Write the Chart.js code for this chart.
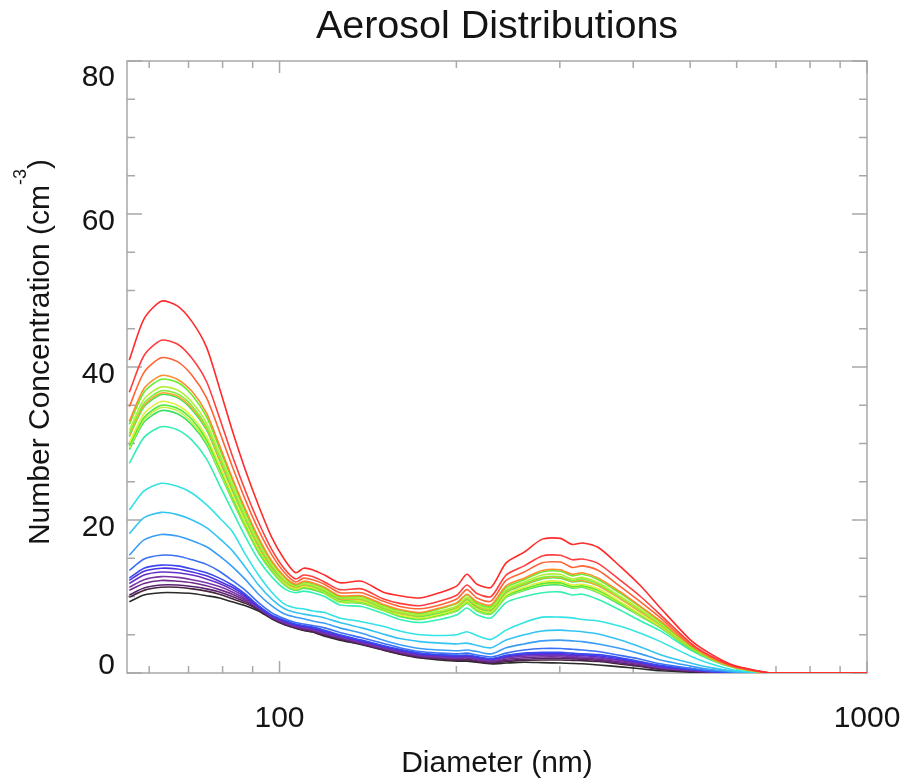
<!DOCTYPE html>
<html>
<head>
<meta charset="utf-8">
<script src="https://cdn.jsdelivr.net/npm/chart.js@4"></script>
<style>
html, body { margin: 0; background: #fff; }
#wrap { width: 915px; height: 779px; position: relative; }
</style>
</head>
<body>
<div id="wrap"><canvas id="c"></canvas></div>
<script>
const axisCol = '#a8a8a8';
const textCol = '#141414';
const fontFam = '"Liberation Sans", Arial, Helvetica, sans-serif';

// diameters (nm) shared by every distribution
const diam = [55.5, 58.8, 62.9, 67.0, 71.0, 75.1, 79.0, 83.1, 87.5, 92.1, 96.9, 102, 106.5, 109.9, 113.8, 119.3, 126.6, 138, 149.9, 160.2, 173.4, 187.5, 200.5, 208.4, 216.8, 229.1, 243, 260.9, 280, 300.5, 315, 327.6, 348.9, 380.4, 411.6, 445.1, 501, 541.9, 593, 659.5, 686, 772, 1000];

const red1 = [40.9, 46.3, 48.6, 48.0, 45.9, 42.6, 37.3, 31.7, 26.5, 21.9, 17.8, 14.8, 13.1, 13.7, 13.5, 12.8, 11.8, 12.0, 10.6, 10.1, 9.8, 10.5, 11.4, 12.9, 11.6, 11.2, 14.4, 15.8, 17.5, 17.6, 16.8, 17.0, 16.4, 13.9, 11.4, 8.5, 4.3, 2.5, 1.0, 0.2, 0, 0, 0];
const red2 = [36.7, 41.5, 43.5, 43.0, 41.1, 38.1, 33.4, 28.4, 23.8, 19.7, 16.2, 13.6, 12.3, 12.8, 12.6, 11.9, 10.9, 11.0, 9.7, 9.1, 8.8, 9.4, 10.2, 11.5, 10.4, 10.0, 12.8, 14.0, 15.3, 15.4, 14.8, 14.9, 14.3, 12.1, 10.0, 7.6, 3.9, 2.2, 0.9, 0.2, 0, 0, 0];
const orangeRed = [34.8, 39.3, 41.2, 40.7, 38.9, 36.0, 31.6, 27.0, 22.6, 18.7, 15.5, 13.1, 11.9, 12.4, 12.2, 11.6, 10.5, 10.5, 9.4, 8.7, 8.4, 8.9, 9.7, 10.9, 9.8, 9.4, 12.1, 13.2, 14.4, 14.5, 13.8, 14.0, 13.4, 11.3, 9.3, 7.2, 3.7, 2.2, 0.9, 0.15, 0, 0, 0];
const orange1 = [32.9, 37.2, 38.9, 38.4, 36.8, 34.0, 29.8, 25.5, 21.4, 17.7, 14.7, 12.6, 11.6, 12.0, 11.8, 11.2, 10.1, 10.1, 9.0, 8.3, 7.9, 8.5, 9.2, 10.3, 9.3, 8.9, 11.4, 12.4, 13.4, 13.5, 12.9, 13.1, 12.4, 10.6, 8.7, 6.8, 3.6, 2.0, 0.8, 0.14, 0, 0, 0];
const green1 = [32.5, 36.7, 38.4, 38.0, 36.3, 33.5, 29.4, 25.2, 21.1, 17.5, 14.6, 12.5, 11.5, 11.9, 11.7, 11.1, 10.0, 10.0, 8.9, 8.2, 7.8, 8.4, 9.1, 10.2, 9.1, 8.7, 11.2, 12.2, 13.2, 13.3, 12.7, 12.9, 12.2, 10.4, 8.6, 6.7, 3.5, 2.0, 0.8, 0.14, 0, 0, 0];
const yellowGreen = [31.7, 35.8, 37.4, 37.0, 35.4, 32.7, 28.7, 24.6, 20.6, 17.1, 14.3, 12.2, 11.4, 11.7, 11.5, 10.9, 9.9, 9.8, 8.7, 8.0, 7.6, 8.1, 8.8, 9.9, 8.9, 8.5, 10.9, 11.9, 12.8, 12.9, 12.3, 12.5, 11.8, 10.0, 8.3, 6.5, 3.4, 1.95, 0.8, 0.13, 0, 0, 0];
const green2 = [31.3, 35.3, 36.9, 36.5, 34.9, 32.2, 28.3, 24.3, 20.3, 16.9, 14.1, 12.1, 11.3, 11.6, 11.4, 10.8, 9.8, 9.7, 8.6, 7.9, 7.5, 8.0, 8.7, 9.8, 8.8, 8.4, 10.7, 11.7, 12.5, 12.6, 12.1, 12.3, 11.6, 9.9, 8.2, 6.4, 3.4, 1.9, 0.8, 0.13, 0, 0, 0];
const orange2 = [31.0, 35.0, 36.6, 36.2, 34.6, 32.0, 28.0, 24.1, 20.2, 16.7, 14.0, 12.0, 11.2, 11.5, 11.3, 10.8, 9.7, 9.6, 8.6, 7.8, 7.5, 8.0, 8.6, 9.7, 8.7, 8.3, 10.6, 11.6, 12.4, 12.5, 12.0, 12.1, 11.4, 9.7, 8.0, 6.3, 3.35, 1.9, 0.8, 0.13, 0, 0, 0];
const green3 = [30.9, 34.8, 36.4, 36.0, 34.4, 31.8, 27.9, 23.9, 20.1, 16.6, 13.9, 12.0, 11.2, 11.5, 11.3, 10.7, 9.6, 9.6, 8.5, 7.8, 7.4, 7.9, 8.6, 9.6, 8.6, 8.2, 10.5, 11.5, 12.3, 12.4, 11.9, 12.0, 11.4, 9.7, 8.0, 6.3, 3.3, 1.9, 0.8, 0.13, 0, 0, 0];
const yellow1 = [30.1, 33.9, 35.5, 35.0, 33.5, 30.9, 27.2, 23.3, 19.6, 16.2, 13.7, 11.8, 11.0, 11.3, 11.1, 10.6, 9.5, 9.4, 8.4, 7.6, 7.2, 7.7, 8.4, 9.4, 8.4, 8.0, 10.2, 11.2, 11.9, 12.0, 11.5, 11.6, 11.0, 9.3, 7.7, 6.1, 3.3, 1.85, 0.76, 0.12, 0, 0, 0];
const green4 = [29.7, 33.4, 35.0, 34.6, 33.1, 30.5, 26.8, 23.0, 19.3, 16.0, 13.5, 11.7, 10.9, 11.2, 11.0, 10.5, 9.4, 9.3, 8.3, 7.5, 7.1, 7.6, 8.3, 9.3, 8.3, 7.9, 10.1, 11.0, 11.7, 11.8, 11.3, 11.4, 10.8, 9.2, 7.6, 6.0, 3.2, 1.84, 0.75, 0.12, 0, 0, 0];
const yellow2 = [29.4, 33.1, 34.7, 34.3, 32.7, 30.2, 26.5, 22.8, 19.1, 15.9, 13.4, 11.6, 10.9, 11.2, 11.0, 10.4, 9.3, 9.2, 8.2, 7.5, 7.1, 7.5, 8.2, 9.2, 8.2, 7.8, 10.0, 10.9, 11.6, 11.7, 11.2, 11.3, 10.6, 9.1, 7.5, 6.0, 3.2, 1.82, 0.75, 0.12, 0, 0, 0];
const green5 = [29.2, 32.8, 34.3, 33.9, 32.4, 29.9, 26.3, 22.6, 19.0, 15.7, 13.3, 11.5, 10.8, 11.1, 10.9, 10.4, 9.3, 9.1, 8.2, 7.4, 7.0, 7.5, 8.1, 9.1, 8.1, 7.7, 9.9, 10.8, 11.4, 11.5, 11.1, 11.2, 10.5, 8.9, 7.4, 5.9, 3.2, 1.8, 0.74, 0.11, 0, 0, 0];
const teal = [27.4, 30.8, 32.2, 31.8, 30.4, 28.0, 24.6, 21.2, 17.8, 14.8, 12.6, 11.0, 10.5, 10.7, 10.5, 10.0, 8.9, 8.7, 7.8, 7.0, 6.6, 7.0, 7.6, 8.5, 7.6, 7.2, 9.2, 10.0, 10.5, 10.6, 10.2, 10.3, 9.6, 8.2, 6.8, 5.5, 3.0, 1.7, 0.7, 0.1, 0, 0, 0];
const cyan = [21.3, 23.8, 24.8, 24.4, 23.5, 22.0, 20.3, 18.5, 15.5, 12.8, 10.6, 9.0, 8.5, 8.4, 8.1, 7.9, 7.2, 6.7, 6.1, 5.5, 5.0, 4.9, 5.0, 5.4, 4.9, 4.4, 5.6, 6.6, 7.3, 7.3, 7.2, 7.0, 6.8, 6.1, 5.2, 4.1, 2.2, 1.2, 0.4, 0.05, 0, 0, 0];
const lightBlue = [18.2, 20.3, 21.0, 20.7, 20.0, 19.0, 17.6, 16.0, 13.8, 11.5, 9.7, 8.4, 7.9, 7.7, 7.5, 7.2, 6.6, 5.9, 5.1, 4.5, 4.1, 3.9, 3.8, 3.9, 3.6, 3.3, 4.3, 5.0, 5.5, 5.6, 5.5, 5.4, 5.1, 4.3, 3.4, 2.4, 1.3, 0.7, 0.25, 0.03, 0, 0, 0];
const skyBlue = [15.4, 17.4, 18.1, 17.9, 17.3, 16.5, 15.3, 13.9, 12.2, 10.3, 8.8, 7.7, 7.3, 7.1, 6.8, 6.5, 5.9, 5.2, 4.3, 3.7, 3.2, 3.0, 2.9, 3.0, 2.8, 2.5, 3.3, 3.8, 4.2, 4.3, 4.2, 4.1, 3.8, 3.2, 2.5, 1.7, 0.9, 0.45, 0.15, 0, 0, 0, 0];
const blue1 = [13.4, 14.9, 15.4, 15.3, 14.8, 14.2, 13.3, 12.1, 10.8, 9.2, 7.9, 7.1, 6.6, 6.4, 6.2, 5.9, 5.3, 4.6, 3.9, 3.3, 2.8, 2.6, 2.5, 2.6, 2.35, 2.1, 2.6, 3.0, 3.2, 3.2, 3.1, 3.0, 2.8, 2.3, 1.8, 1.2, 0.6, 0.3, 0.1, 0, 0, 0, 0];
const blue2 = [12.4, 13.7, 14.1, 14.0, 13.6, 13.1, 12.4, 11.5, 10.3, 8.8, 7.6, 6.9, 6.4, 6.2, 6.0, 5.6, 5.0, 4.3, 3.6, 3.1, 2.6, 2.4, 2.3, 2.35, 2.15, 1.9, 2.3, 2.6, 2.7, 2.7, 2.6, 2.5, 2.4, 2.0, 1.5, 1.0, 0.5, 0.25, 0.08, 0, 0, 0, 0];
const blueViolet = [12.1, 13.3, 13.7, 13.6, 13.2, 12.7, 12.0, 11.2, 10.1, 8.7, 7.5, 6.8, 6.3, 6.1, 5.9, 5.45, 4.9, 4.2, 3.5, 3.0, 2.5, 2.3, 2.2, 2.25, 2.05, 1.8, 2.2, 2.5, 2.55, 2.55, 2.45, 2.4, 2.25, 1.85, 1.4, 0.9, 0.45, 0.2, 0.06, 0, 0, 0, 0];
const violet = [11.7, 12.8, 13.2, 13.1, 12.8, 12.3, 11.7, 10.9, 9.9, 8.6, 7.4, 6.7, 6.2, 6.0, 5.8, 5.3, 4.8, 4.1, 3.4, 2.9, 2.4, 2.2, 2.1, 2.15, 1.95, 1.7, 2.1, 2.35, 2.4, 2.4, 2.3, 2.25, 2.1, 1.7, 1.3, 0.8, 0.4, 0.18, 0.05, 0, 0, 0, 0];
const purple1 = [11.2, 12.2, 12.6, 12.5, 12.2, 11.8, 11.3, 10.6, 9.7, 8.5, 7.35, 6.6, 6.1, 5.9, 5.7, 5.2, 4.7, 4.0, 3.3, 2.8, 2.3, 2.1, 2.0, 2.05, 1.85, 1.6, 1.95, 2.2, 2.25, 2.25, 2.15, 2.1, 1.95, 1.6, 1.2, 0.7, 0.35, 0.15, 0.04, 0, 0, 0, 0];
const purple2 = [10.8, 11.7, 12.1, 12.0, 11.8, 11.4, 10.9, 10.3, 9.5, 8.45, 7.3, 6.5, 6.0, 5.8, 5.6, 5.1, 4.6, 3.9, 3.2, 2.7, 2.2, 2.0, 1.9, 1.95, 1.75, 1.5, 1.8, 2.0, 2.1, 2.1, 2.0, 1.95, 1.8, 1.45, 1.1, 0.65, 0.3, 0.12, 0.03, 0, 0, 0, 0];
const darkPurple = [10.2, 11.1, 11.5, 11.5, 11.3, 11.0, 10.6, 10.0, 9.3, 8.35, 7.25, 6.4, 5.95, 5.7, 5.5, 5.0, 4.5, 3.8, 3.1, 2.6, 2.1, 1.9, 1.75, 1.8, 1.6, 1.4, 1.65, 1.8, 1.9, 1.9, 1.85, 1.8, 1.65, 1.3, 0.95, 0.55, 0.25, 0.1, 0.02, 0, 0, 0, 0];
const dark = [9.9, 10.8, 11.2, 11.2, 11.0, 10.7, 10.3, 9.7, 9.1, 8.25, 7.2, 6.35, 5.9, 5.6, 5.4, 4.9, 4.4, 3.75, 3.05, 2.5, 2.05, 1.8, 1.65, 1.7, 1.5, 1.3, 1.5, 1.65, 1.7, 1.7, 1.65, 1.6, 1.5, 1.15, 0.85, 0.45, 0.2, 0.08, 0.02, 0, 0, 0, 0];
const black = [9.3, 10.2, 10.5, 10.5, 10.4, 10.1, 9.8, 9.3, 8.8, 8.1, 7.1, 6.3, 5.85, 5.55, 5.35, 4.8, 4.3, 3.7, 3.0, 2.45, 1.95, 1.7, 1.55, 1.55, 1.4, 1.2, 1.3, 1.4, 1.35, 1.3, 1.25, 1.2, 1.05, 0.8, 0.55, 0.3, 0.12, 0.05, 0, 0, 0, 0, 0];

// axis ticks
const yMajor = [0, 20, 40, 60, 80];
const yTicks = [0, 5, 10, 15, 20, 25, 30, 35, 40, 45, 50, 55, 60, 65, 70, 75, 80];
const xMajor = [100, 1000];
const xTicks = [60, 70, 80, 90, 100, 200, 300, 400, 500, 600, 700, 800, 900, 1000];

// first in list is drawn on top
const series = [
    [red1, '#ff2b2b'], [red2, '#ff3f3f'], [orangeRed, '#ff6436'], [orange1, '#ff8c2e'],
    [green1, '#66ee2a'], [yellowGreen, '#b4f03a'], [green2, '#7ef03a'], [orange2, '#ffa63a'],
    [green3, '#42e44a'], [yellow1, '#e2f03a'], [green4, '#55e93a'], [yellow2, '#c8f040'],
    [green5, '#3ee062'], [teal, '#34eeb4'], [cyan, '#33e3e6'], [lightBlue, '#35c3f2'],
    [skyBlue, '#3a9cf6'], [blue1, '#3b6ff4'], [blue2, '#3a48ee'], [blueViolet, '#4a32e0'],
    [violet, '#6630c6'], [purple1, '#7a36a8'], [purple2, '#6e2a8c'], [darkPurple, '#5a2370'],
    [dark, '#47273f'], [black, '#2a2a2a']
];

series.forEach(([v], i) => { if (v.length !== diam.length) throw new Error('series ' + i + ' has ' + v.length + ' values'); });

const boxTicks = {
    id: 'boxTicks',
    beforeDatasetsDraw(chart) {
        const { ctx, chartArea: a, scales: { x, y } } = chart;
        ctx.save();
        ctx.strokeStyle = axisCol;
        ctx.lineWidth = 1.5;
        ctx.beginPath();
        yTicks.forEach(v => {
            const p = y.getPixelForValue(v);
            const len = yMajor.includes(v) ? 15 : 8;
            ctx.moveTo(a.left, p); ctx.lineTo(a.left + len, p);
            ctx.moveTo(a.right, p); ctx.lineTo(a.right - len, p);
        });
        xTicks.forEach(v => {
            const p = x.getPixelForValue(v);
            const len = xMajor.includes(v) ? 12 : 7;
            ctx.moveTo(p, a.bottom); ctx.lineTo(p, a.bottom - len);
            ctx.moveTo(p, a.top); ctx.lineTo(p, a.top + len);
        });
        ctx.stroke();
        ctx.strokeRect(a.left, a.top, a.right - a.left, a.bottom - a.top);
        ctx.restore();
    },
    afterDraw(chart) {
        const { ctx, chartArea: a, scales: { x, y } } = chart;
        ctx.save();
        ctx.fillStyle = textCol;
        ctx.font = '30px ' + fontFam;
        ctx.textBaseline = 'alphabetic';
        ctx.textAlign = 'right';
        yMajor.forEach(v => {
            let b = y.getPixelForValue(v) + 16;
            b = Math.min(Math.max(b, a.top + 25), a.bottom + 1);
            ctx.fillText(String(v), a.left - 12, b);
        });
        ctx.textAlign = 'center';
        xMajor.forEach(v => ctx.fillText(String(v), x.getPixelForValue(v), a.bottom + 54));
        ctx.fillText('Diameter (nm)', (a.left + a.right) / 2, 772);

        // y title with superscript
        const main = 'Number Concentration (cm', sup = '-3', close = ')';
        ctx.translate(49, 352);
        ctx.rotate(-Math.PI / 2);
        ctx.textAlign = 'left';
        const w1 = ctx.measureText(main).width;
        const w3 = ctx.measureText(close).width;
        ctx.font = '18px ' + fontFam;
        const w2 = ctx.measureText(sup).width;
        const sx = -(w1 + w2 + w3) / 2;
        ctx.fillText(sup, sx + w1, -23);
        ctx.font = '30px ' + fontFam;
        ctx.fillText(main, sx, 0);
        ctx.fillText(close, sx + w1 + w2, 0);
        ctx.restore();
    }
};

new Chart(document.getElementById('c'), {
    type: 'line',
    data: {
        datasets: series.map(([v, col]) => ({
            data: diam.map((d, i) => ({ x: d, y: v[i] })),
            borderColor: col,
            borderWidth: 1.6,
            pointRadius: 0,
            tension: 0.25,
            fill: false
        }))
    },
    options: {
        responsive: true,
        maintainAspectRatio: false,
        animation: false,
        layout: { padding: { left: 127, right: 48, top: 0, bottom: 106 } },
        plugins: {
            legend: { display: false },
            tooltip: { enabled: false },
            title: {
                display: true,
                fullSize: false,
                text: 'Aerosol Distributions',
                color: textCol,
                font: { family: fontFam, size: 39.5, weight: 'normal', lineHeight: 1.2 },
                padding: { top: 3.3, bottom: 10.3 }
            }
        },
        scales: {
            x: { type: 'logarithmic', min: 55, max: 1000, display: false },
            y: { type: 'linear', min: 0, max: 80, display: false }
        }
    },
    plugins: [boxTicks]
});
</script>
</body>
</html>
